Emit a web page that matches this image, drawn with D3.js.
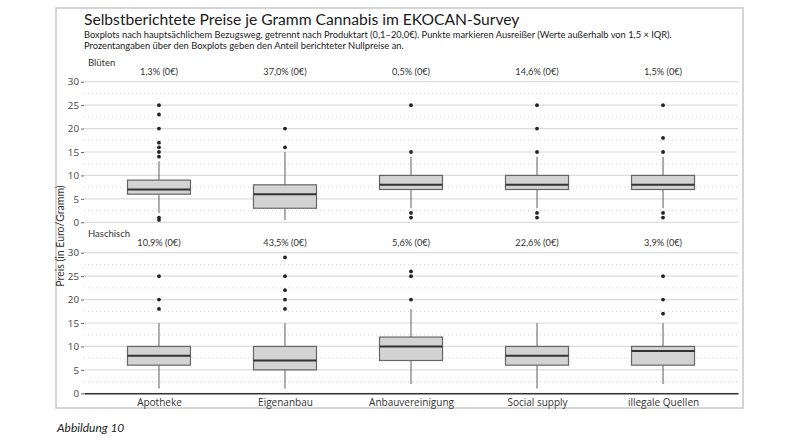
<!DOCTYPE html>
<html><head><meta charset="utf-8">
<script src="https://cdn.jsdelivr.net/npm/d3@7"></script>
<style>body{margin:0;background:#fff}svg{display:block}text{font-family:"Open Sans",sans-serif}</style>
</head><body><svg id="c" width="800" height="442"></svg>
<script>
const categories = ["Apotheke","Eigenanbau","Anbauvereinigung","Social supply","illegale Quellen"];
const yTicks = [0,5,10,15,20,25,30];
const yMinor = [2.5,7.5,12.5,17.5,22.5,27.5];

// Blüten
const bluetenLow    = [2, 0.5, 3, 3, 3];
const bluetenQ1     = [6, 3, 7, 7, 7];
const bluetenMedian = [7, 6, 8, 8, 8];
const bluetenQ3     = [9, 8, 10, 10, 10];
const bluetenHigh   = [13, 15, 14, 14, 14];
const bluetenOutliers = [[25,23,20,17,16,15,14,1,0.5],[20,16],[25,15,2,1],[25,20,15,2,1],[25,18,15,2,1]];
const bluetenZero   = ["1,3% (0€)","37,0% (0€)","0,5% (0€)","14,6% (0€)","1,5% (0€)"];

// Haschisch
const haschLow    = [1, 1, 2, 1, 2];
const haschQ1     = [6, 5, 7, 6, 6];
const haschMedian = [8, 7, 10, 8, 9];
const haschQ3     = [10, 10, 12, 10, 10];
const haschHigh   = [15, 15, 18, 15, 15];
const haschOutliers = [[25,20,18],[29,25,22,20,18],[26,25,20],[],[25,20,17]];
const haschZero   = ["10,9% (0€)","43,5% (0€)","5,6% (0€)","22,6% (0€)","3,9% (0€)"];

const panels = [
  {name:"Blüten", low:bluetenLow,q1:bluetenQ1,med:bluetenMedian,q3:bluetenQ3,high:bluetenHigh,out:bluetenOutliers,zero:bluetenZero, top:81.7, bottom:222.3},
  {name:"Haschisch", low:haschLow,q1:haschQ1,med:haschMedian,q3:haschQ3,high:haschHigh,out:haschOutliers,zero:haschZero, top:252.7, bottom:393.3}
];

const svg = d3.select("#c");
const L = 84, R = 738;
const x = d3.scalePoint().domain(categories).range([L,R]).padding(0.595);
const step = x.step();
const bw = step*0.5;

function fit(t, w){
  const n = t.node(); const fs = +t.attr("font-size");
  const cw = n.getComputedTextLength();
  if(cw>0) t.attr("font-size", fs*w/cw);
  return t;
}

// frame
svg.append("rect").attr("x",56).attr("y",8).attr("width",687).attr("height",400)
  .attr("fill","none").attr("stroke","#c8c8c8").attr("stroke-width",1.5);

fit(svg.append("text").attr("x",84).attr("y",25).attr("font-size",16).attr("fill","#1a1a1a")
  .style("font-family","Lato, sans-serif")
  .text("Selbstberichtete Preise je Gramm Cannabis im EKOCAN-Survey"), 436);
fit(svg.append("text").attr("x",84).attr("y",38).attr("font-size",9).attr("fill","#222")
  .style("font-family","Lato, sans-serif")
  .text("Boxplots nach hauptsächlichem Bezugsweg, getrennt nach Produktart (0,1–20,0€). Punkte markieren Ausreißer (Werte außerhalb von 1,5 × IQR)."), 588);
fit(svg.append("text").attr("x",84).attr("y",49).attr("font-size",9).attr("fill","#222")
  .style("font-family","Lato, sans-serif")
  .text("Prozentangaben über den Boxplots geben den Anteil berichteter Nullpreise an."), 320);

panels.forEach((p,pi)=>{
  const y = d3.scaleLinear().domain([0,30]).range([p.bottom,p.top]);
  const g = svg.append("g");
  g.selectAll(".minor").data(yMinor).join("line")
    .attr("x1",L).attr("x2",R).attr("y1",d=>y(d)).attr("y2",d=>y(d))
    .attr("stroke","#c4c4c4").attr("stroke-width",0.8).attr("stroke-dasharray","1,3");
  g.selectAll(".major").data(yTicks).join("line")
    .attr("x1",L).attr("x2",R).attr("y1",d=>y(d)).attr("y2",d=>y(d))
    .attr("stroke","#dcdcdc").attr("stroke-width",1.2);
  const ax = g.append("g").attr("transform",`translate(${L},0)`)
    .call(d3.axisLeft(y).tickValues(yTicks).tickSize(3).tickPadding(2));
  ax.select(".domain").remove();
  ax.selectAll("line").attr("stroke","#666");
  ax.selectAll("text").attr("font-size",9.8).attr("fill","#444").attr("font-family","Lato, sans-serif");

  g.append("text").attr("x",88).attr("y",p.top-16).attr("font-size",9.5).attr("fill","#333")
    .style("font-family","Lato, sans-serif").text(p.name);

  categories.forEach((c,i)=>{
    const cx = x(c);
    g.append("text").attr("x",cx).attr("y",p.top-7).attr("text-anchor","middle")
      .attr("font-size",9.2).attr("fill","#333").style("font-family","Lato, sans-serif").text(p.zero[i]);
    g.append("line").attr("x1",cx).attr("x2",cx).attr("y1",y(p.q3[i])).attr("y2",y(p.high[i]))
      .attr("stroke","#777").attr("stroke-width",1.2);
    g.append("line").attr("x1",cx).attr("x2",cx).attr("y1",y(p.q1[i])).attr("y2",y(p.low[i]))
      .attr("stroke","#777").attr("stroke-width",1.2);
    g.append("rect").attr("x",cx-bw/2).attr("width",bw).attr("y",y(p.q3[i])).attr("height",y(p.q1[i])-y(p.q3[i]))
      .attr("fill","#d3d3d3").attr("stroke","#666").attr("stroke-width",1.2);
    g.append("line").attr("x1",cx-bw/2).attr("x2",cx+bw/2).attr("y1",y(p.med[i])).attr("y2",y(p.med[i]))
      .attr("stroke","#333").attr("stroke-width",2);
    g.selectAll(null).data(p.out[i]).join("circle")
      .attr("cx",cx).attr("cy",d=>y(d)).attr("r",1.9).attr("fill","#222");
  });

  if(pi===1){
    const xa = svg.append("g").attr("transform",`translate(0,${p.bottom})`)
      .call(d3.axisBottom(x).tickSize(0).tickSizeOuter(0).tickPadding(6));
    xa.select(".domain").attr("stroke","#333").attr("stroke-width",1.5);
    xa.selectAll("text").attr("font-size",10).attr("fill","#333").attr("font-family","Lato, sans-serif");
  }
});

svg.append("text").attr("transform","translate(64,236) rotate(-90)").attr("text-anchor","middle")
  .attr("font-size",10.5).attr("fill","#333").style("font-family","Lato, sans-serif").text("Preis (in Euro/Gramm)");

svg.append("text").attr("x",57).attr("y",432).attr("font-size",12).attr("font-style","italic")
  .attr("fill","#222").style("font-family","Lato, sans-serif").text("Abbildung 10");
</script></body></html>
